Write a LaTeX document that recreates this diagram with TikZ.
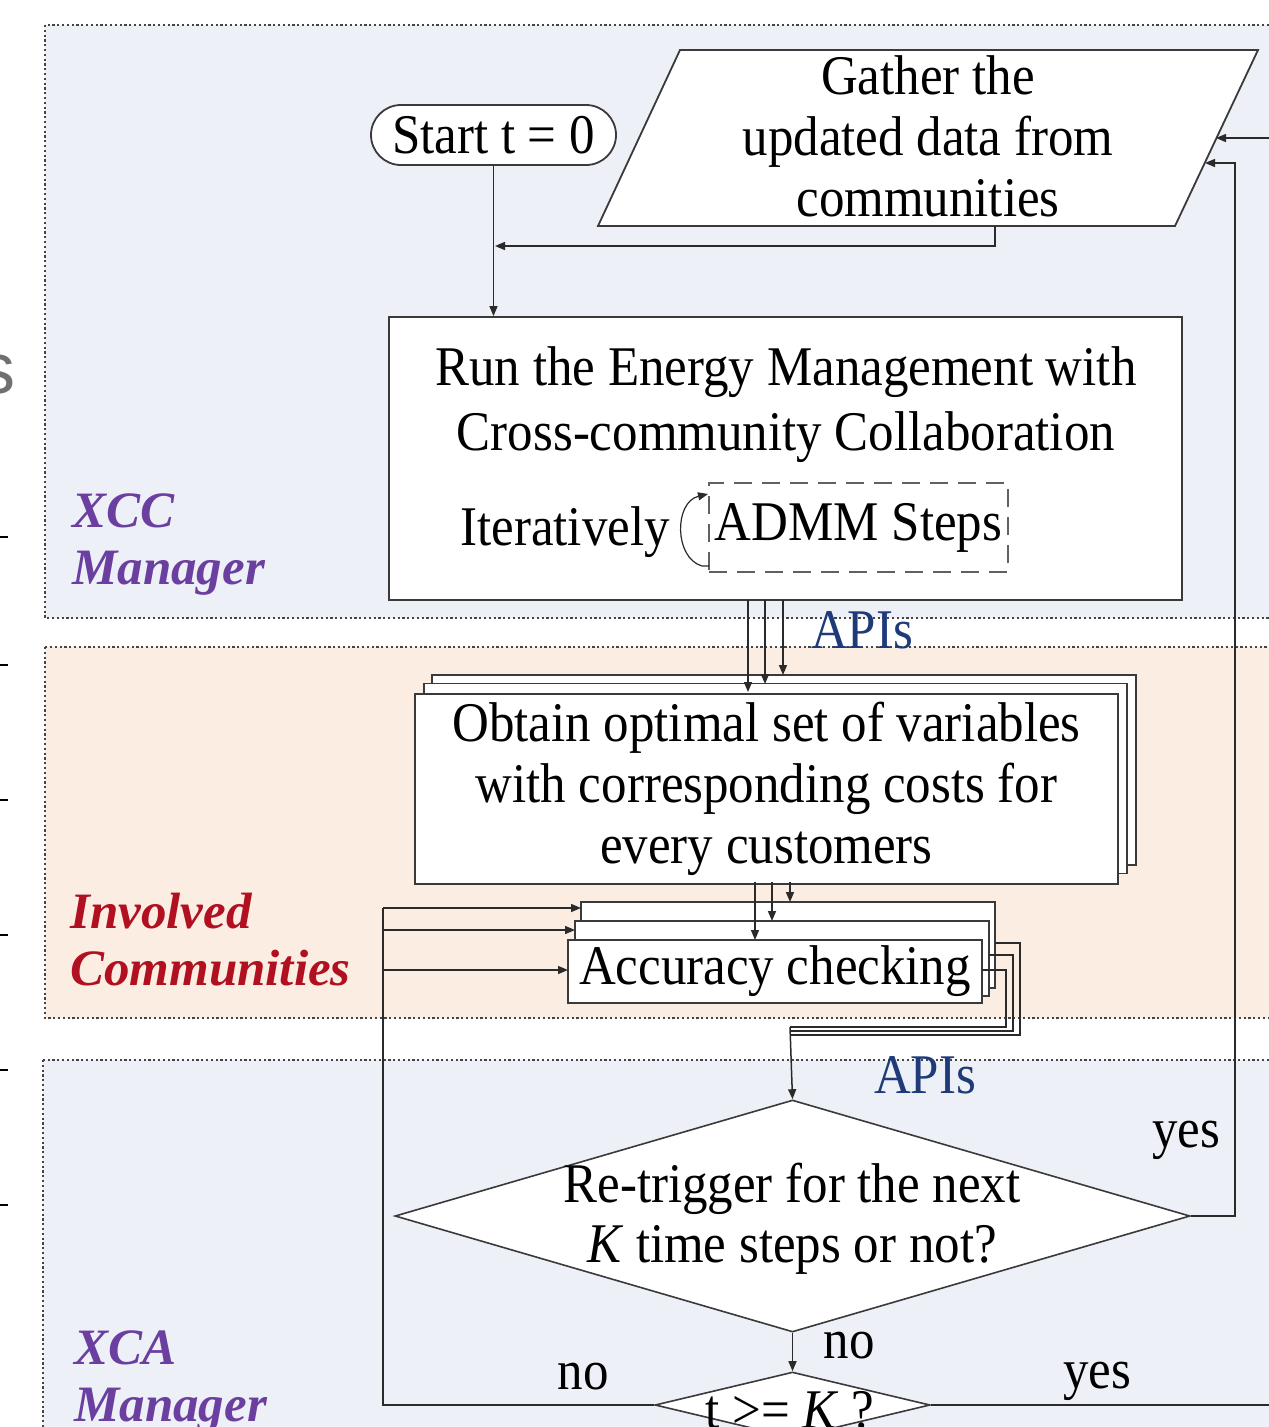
\documentclass[tikz,border=0pt]{standalone}
\usepackage{fontspec}
\setmainfont{Liberation Serif}[FakeStretch=0.91]
\newfontfamily\lblfont{Liberation Serif}
\newfontfamily\artfont{Liberation Sans}
\usetikzlibrary{arrows.meta,shapes.geometric}
\definecolor{bluebg}{HTML}{EDF0F7}
\definecolor{peachbg}{HTML}{FCEDE3}
\definecolor{regc}{HTML}{444444}
\definecolor{boxc}{HTML}{3A3A3A}
\definecolor{linec}{HTML}{2A2A2A}
\definecolor{purp}{HTML}{6B3FA0}
\definecolor{redlbl}{HTML}{B01020}
\definecolor{apic}{HTML}{1E3A78}
\definecolor{artc}{HTML}{707070}
\tikzset{
  boxs/.style={draw=boxc, line width=1.8pt, fill=white, rectangle, inner sep=0pt},
  txt/.style={font=\fontsize{56}{62}\selectfont, align=center, inner sep=0pt},
  arr/.style={draw=linec, line width=1.5pt, -{Triangle[length=10pt,width=8pt]}},
  ln/.style={draw=linec, line width=1.5pt},
  region/.style={draw=regc, line width=2.2pt, dash pattern=on 2.2pt off 2.6pt},
  lbl/.style={font=\lblfont\fontsize{51}{57}\selectfont\bfseries\itshape, align=left, inner sep=0pt, anchor=north west},
  api/.style={txt, text=apic},
}
\begin{document}
\begin{tikzpicture}[x=1pt,y=-1pt]
\useasboundingbox (0,0) rectangle (1269,1427);
\clip (0,0) rectangle (1269,1427);
\fill[white] (0,0) rectangle (1269,1427);
% regions
\draw[region, fill=bluebg] (45,25) rectangle (1300,618);
\draw[region, fill=peachbg] (45,647) rectangle (1300,1018);
\draw[region, fill=bluebg] (43,1060) rectangle (1300,1460);
% crop artifacts at left edge
\node[font=\artfont\fontsize{72}{72}\selectfont, text=artc, inner sep=0pt, anchor=base east] (artS) at (16,393) {s};
\foreach \yy in {537,665,800,935,1070,1205} \draw[line width=1.8pt, black] (0,\yy) -- (8,\yy);
% lane labels
\node[lbl, text=purp] (lxcc) at (72,494) {XCC\\Manager};
\node[lbl, text=redlbl] (linv) at (70,893) {Involved\\Communities};
\node[lbl, text=purp] (lxca) at (74,1331) {XCA\\Manager};
% start
\node[boxs, txt, rounded corners=30pt, minimum width=245, minimum height=60] (start) at (493.5,135) {Start t = 0};
% gather parallelogram
\coordinate (gTL) at (680,50);
\coordinate (gTR) at (1258,50);
\coordinate (gBR) at (1175,226);
\coordinate (gBL) at (598,226);
\draw[draw=boxc, line width=1.8pt, fill=white] (gTL) -- (gTR) -- (gBR) -- (gBL) -- cycle;
\node[txt, font=\fontsize{56}{61}\selectfont] (gather) at (928,136) {Gather the\\updated data from\\communities};
\coordinate (gIn1) at (1216,138);
\coordinate (gIn2) at (1205,163);
\coordinate (gOut) at (995,226);
% run box
\node[boxs, minimum width=793, minimum height=283] (run) at (785.5,458.5) {};
\node[txt, font=\fontsize{56}{65}\selectfont] (runtxt) at (786,405) {Run the Energy Management with\\Cross-community Collaboration};
\node[txt] (iter) at (565,532) {Iteratively};
\node[draw=boxc!80, line width=1.6pt, dash pattern=on 18pt off 10pt, txt, minimum width=299, minimum height=89, fill=white] (admm) at (858.5,527.5) {ADMM Steps};
\draw[arr, line width=1.2pt] (709,566) -- (702,566) .. controls (674,558) and (674,502) .. (708,494);
% obtain stack
\node[boxs, minimum width=704, minimum height=190] (ob3) at (784,770) {};
\node[boxs, minimum width=703, minimum height=190] (ob2) at (775.5,778.5) {};
\node[boxs, txt, minimum width=703, minimum height=190, font=\fontsize{56}{61}\selectfont] (ob1) at (766.5,789) {Obtain optimal set of variables\\with corresponding costs for\\every customers};
% accuracy stack
\node[boxs, minimum width=414, minimum height=86] (ac3) at (788,945) {};
\node[boxs, minimum width=414, minimum height=75] (ac2) at (782,958.5) {};
\node[boxs, txt, minimum width=414, minimum height=63] (ac1) at (775,971.5) {Accuracy checking};
% decisions
\node[diamond, draw=boxc, line width=1.6pt, fill=white, inner sep=0pt, minimum width=795, minimum height=232] (dec) at (792.5,1216) {};
\node[txt, font=\fontsize{56}{60}\selectfont] (dectxt) at (792,1219) {Re-trigger for the next\\\textit{K} time steps or not?};
\node[diamond, draw=boxc, line width=1.6pt, fill=white, inner sep=0pt, minimum width=275, minimum height=66] (dk) at (792.5,1405) {};
\node[txt] (dktxt) at (790,1410) {t >= \textit{K} ?};
% labels
\node[api] (api1) at (862,630) {APIs};
\node[api] (api2) at (925,1075) {APIs};
\node[txt] (yes1) at (1186,1140) {yes};
\node[txt] (no1) at (849,1346) {no};
\node[txt] (no2) at (583,1377) {no};
\node[txt] (yes2) at (1097,1381) {yes};
% connectors
\draw[arr] (start.south) -- (start.south |- run.north);
\coordinate (j1) at (495,246);
\draw[arr] (gOut) |- (j1);
\draw[arr] (748,600) -- (748,692);
\draw[arr] (765,600) -- (765,684);
\draw[arr] (783,600) -- (783,675);
\draw[arr] (755,882) -- (755,940);
\draw[arr] (772,882) -- (772,921);
\draw[arr] (790,882) -- (790,902);
% accuracy outputs
\draw[ln] (995,943) -- (1020,943) -- (1020,1035) -- (790,1035);
\draw[ln] (989,955) -- (1013,955) -- (1013,1031) -- (790,1031);
\draw[ln] (982,970) -- (1006,970) -- (1006,1027) -- (790,1027);
\draw[arr] (790,1027) -- (dec.north);
% yes loop to gather
\draw[arr] (dec.east) -- (1235,1216) -- (1235,163) -- (gIn2);
% no to t>=K
\draw[arr] (dec.south) -- (dk.north);
% t>=K no loop
\coordinate (lft) at (383,908);
\draw[ln] (dk.west) -- (383,1405) -- (lft);
\draw[arr] (lft) -- (581,908);
\draw[arr] (383,930) -- (575,930);
\draw[arr] (383,970) -- (568,970);
% t>=K yes loop
\draw[arr] (dk.east) -- (1300,1405) -- (1300,138) -- (gIn1);
\end{tikzpicture}
\end{document}
